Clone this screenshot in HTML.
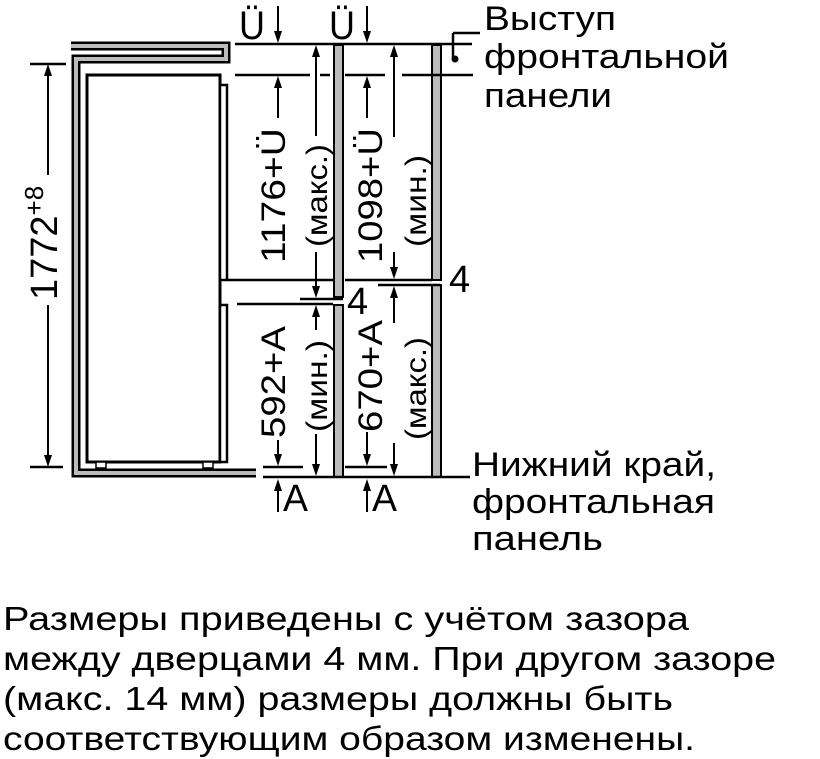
<!DOCTYPE html>
<html><head><meta charset="utf-8"><style>
html,body{margin:0;padding:0;background:#fff}
svg{display:block}
text{font-family:"Liberation Sans",Arial,sans-serif;fill:#000}
</style></head><body>
<svg width="820" height="759" viewBox="0 0 820 759" xmlns="http://www.w3.org/2000/svg">
<g fill="none" stroke-linejoin="miter">
<path d="M71 46 H226 V59 H76 V473 H256" stroke="#000" stroke-width="9"/>
<path d="M71 46 H226 V59 H76 V473 H256" stroke="#bbb" stroke-width="4"/>
</g>
<path d="M87 462 V75 H220 V462 Z" fill="none" stroke="#000" stroke-width="3"/>
<rect x="96" y="462" width="10" height="6" fill="#fff" stroke="#000" stroke-width="1.5"/>
<rect x="203" y="462" width="10" height="6" fill="#fff" stroke="#000" stroke-width="1.5"/>
<rect x="220" y="85" width="7" height="195" fill="#fff" stroke="#000" stroke-width="2.5"/>
<rect x="220" y="305" width="7" height="157" fill="#fff" stroke="#000" stroke-width="2.5"/>
<g stroke="#000" stroke-width="2" fill="#bbb">
<rect x="334" y="45" width="9" height="252"/>
<rect x="334" y="305" width="9" height="172"/>
<rect x="432" y="45" width="9" height="235"/>
<rect x="432" y="285" width="9" height="192"/>
</g>
<g stroke="#000" stroke-width="2.5">
<line x1="235" y1="44" x2="472" y2="44"/>
<line x1="235" y1="75" x2="310" y2="75"/>
<line x1="320" y1="75" x2="330" y2="75"/>
<line x1="345" y1="75" x2="385" y2="75"/>
<line x1="402" y1="75" x2="473" y2="75"/>
<line x1="228" y1="280" x2="333" y2="280"/>
<line x1="345" y1="280" x2="432" y2="280"/>
<line x1="300" y1="299" x2="343" y2="299"/>
<line x1="378" y1="285" x2="440" y2="285"/>
<line x1="237" y1="304" x2="333" y2="304"/>
<line x1="263" y1="467" x2="303" y2="467"/>
<line x1="345" y1="467" x2="387" y2="467"/>
<line x1="263" y1="477" x2="470" y2="477"/>
<line x1="30" y1="64" x2="66" y2="64"/>
<line x1="30" y1="467" x2="63" y2="467"/>
<line x1="453" y1="33" x2="480" y2="33"/>
<line x1="453" y1="33" x2="453" y2="58"/>
</g>
<circle cx="455" cy="59" r="3.5" fill="#000"/>
<g stroke="#000" stroke-width="2">
<line x1="48" y1="70" x2="48" y2="175"/>
<line x1="48" y1="305" x2="48" y2="458"/>
<line x1="278" y1="6" x2="278" y2="36"/>
<line x1="367" y1="6" x2="367" y2="36"/>
<line x1="316" y1="52" x2="316" y2="136"/>
<line x1="316" y1="252" x2="316" y2="290"/>
<line x1="278" y1="84" x2="278" y2="118"/>
<line x1="367" y1="84" x2="367" y2="118"/>
<line x1="394" y1="52" x2="394" y2="137"/>
<line x1="394" y1="252" x2="394" y2="272"/>
<line x1="316" y1="312" x2="316" y2="330"/>
<line x1="316" y1="434" x2="316" y2="469"/>
<line x1="278" y1="440" x2="278" y2="459"/>
<line x1="394" y1="292" x2="394" y2="323"/>
<line x1="394" y1="443" x2="394" y2="469"/>
<line x1="367" y1="432" x2="367" y2="459"/>
<line x1="278" y1="488" x2="278" y2="512"/>
<line x1="367" y1="488" x2="367" y2="512"/>
</g>
<g fill="#000">
<path d="M48 64 l-4 12 h8z"/>
<path d="M48 467 l-4 -12 h8z"/>
<path d="M278 43 l-4 -12 h8z"/>
<path d="M367 43 l-4 -12 h8z"/>
<path d="M316 45 l-4 12 h8z"/>
<path d="M394 45 l-4 12 h8z"/>
<path d="M278 76 l-4 12 h8z"/>
<path d="M367 76 l-4 12 h8z"/>
<path d="M316 298 l-4 -12 h8z"/>
<path d="M394 279 l-4 -12 h8z"/>
<path d="M316 305 l-4 12 h8z"/>
<path d="M394 286 l-4 12 h8z"/>
<path d="M278 466 l-4 -12 h8z"/>
<path d="M367 466 l-4 -12 h8z"/>
<path d="M316 476 l-4 -12 h8z"/>
<path d="M394 476 l-4 -12 h8z"/>
<path d="M278 479 l-4 12 h8z"/>
<path d="M367 479 l-4 12 h8z"/>
</g>
<text x="239" y="39" style="font-size:40px" textLength="26" lengthAdjust="spacingAndGlyphs">Ü</text>
<text x="329" y="39" style="font-size:40px" textLength="26" lengthAdjust="spacingAndGlyphs">Ü</text>
<text x="283" y="511" style="font-size:38px" textLength="25" lengthAdjust="spacingAndGlyphs">A</text>
<text x="372" y="511" style="font-size:38px" textLength="25" lengthAdjust="spacingAndGlyphs">A</text>
<text x="449" y="292" style="font-size:38px">4</text>
<text x="347" y="314" style="font-size:38px">4</text>
<text transform="translate(57,300) rotate(-90)" style="font-size:38px">1772<tspan style="font-size:26px" dy="-14">+8</tspan></text>
<text transform="translate(285,263) rotate(-90)" style="font-size:34px" textLength="135" lengthAdjust="spacingAndGlyphs">1176+Ü</text>
<text transform="translate(327,247) rotate(-90)" style="font-size:30px" textLength="103" lengthAdjust="spacingAndGlyphs">(макс.)</text>
<text transform="translate(382,263) rotate(-90)" style="font-size:34px" textLength="135" lengthAdjust="spacingAndGlyphs">1098+Ü</text>
<text transform="translate(426,247) rotate(-90)" style="font-size:30px" textLength="92" lengthAdjust="spacingAndGlyphs">(мин.)</text>
<text transform="translate(285,438) rotate(-90)" style="font-size:34px" textLength="112" lengthAdjust="spacingAndGlyphs">592+A</text>
<text transform="translate(327,432) rotate(-90)" style="font-size:30px" textLength="92" lengthAdjust="spacingAndGlyphs">(мин.)</text>
<text transform="translate(382,432) rotate(-90)" style="font-size:34px" textLength="112" lengthAdjust="spacingAndGlyphs">670+A</text>
<text transform="translate(426,440) rotate(-90)" style="font-size:30px" textLength="103" lengthAdjust="spacingAndGlyphs">(макс.)</text>
<g style="font-size:34px">
<text x="484" y="30" textLength="132" lengthAdjust="spacingAndGlyphs">Выступ</text>
<text x="484" y="68" textLength="245" lengthAdjust="spacingAndGlyphs">фронтальной</text>
<text x="484" y="107" textLength="128" lengthAdjust="spacingAndGlyphs">панели</text>
<text x="472" y="476" textLength="244" lengthAdjust="spacingAndGlyphs">Нижний край,</text>
<text x="472" y="513" textLength="243" lengthAdjust="spacingAndGlyphs">фронтальная</text>
<text x="472" y="550" textLength="131" lengthAdjust="spacingAndGlyphs">панель</text>
</g>
<g style="font-size:33px">
<text x="3" y="630" textLength="686" lengthAdjust="spacingAndGlyphs">Размеры приведены с учётом зазора</text>
<text x="3" y="670" textLength="773" lengthAdjust="spacingAndGlyphs">между дверцами 4 мм. При другом зазоре</text>
<text x="3" y="710" textLength="670" lengthAdjust="spacingAndGlyphs">(макс. 14 мм) размеры должны быть</text>
<text x="3" y="750" textLength="692" lengthAdjust="spacingAndGlyphs">соответствующим образом изменены.</text>
</g>
</svg>
</body></html>
